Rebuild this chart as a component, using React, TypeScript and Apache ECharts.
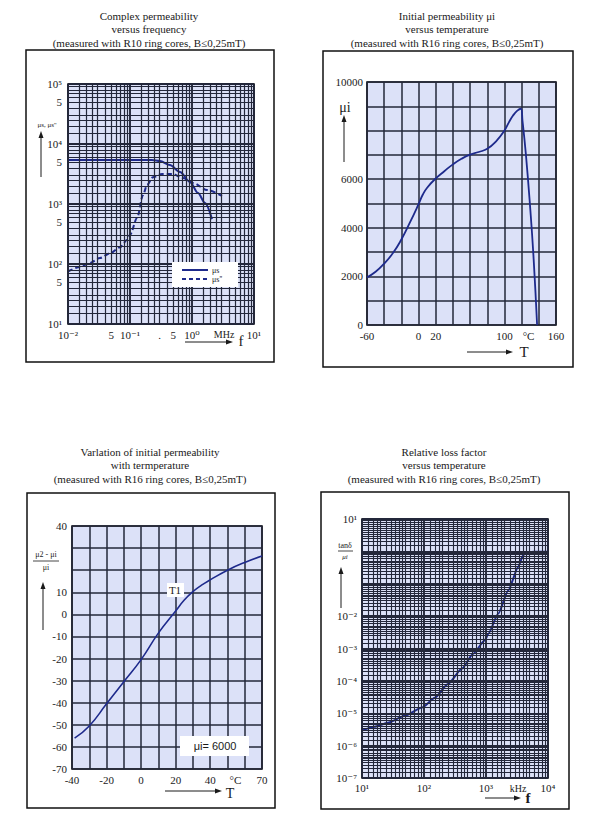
import React, { useEffect, useRef } from 'react';
import * as echarts from 'echarts';

const SERIF = '"Liberation Serif", "Times New Roman", "DejaVu Serif", serif';
const SANS = '"Liberation Sans", Arial, sans-serif';
const INK = '#1a1a1a';
const GRIDC = '#23273a';
const PLOTBG = '#dce1f8';
const CURVE = '#1e2a8c';

// ---------- Panel 1: complex permeability vs frequency (MHz) ----------
const p1FreqMuS = [0.01, 0.05, 0.1, 0.226, 0.305, 0.44, 0.64, 0.93, 1.25, 1.62, 2.1];
const p1MuS = [5400, 5400, 5400, 5400, 5200, 4470, 3420, 2330, 1520, 1040, 560];
const p1FreqMuS2 = [0.01, 0.0156, 0.0226, 0.0328, 0.0476, 0.069, 0.0895, 0.1, 0.13, 0.162, 0.188, 0.235, 0.328, 0.494, 0.716, 1.04, 1.75, 3.05];
const p1MuS2 = [75, 89, 104, 126, 150, 190, 250, 305, 585, 1400, 2070, 2800, 3150, 3150, 2700, 2240, 1710, 1360];
const p1YFiveTicks = [50, 500, 5000, 50000];
const p1XExtraTicks = [0.05, 0.3, 0.5, 3.3];
const p1XExtraLabels = ['5', '.', '5', 'MHz'];
const p1LegendNames = ['μs', "μs''"];

// ---------- Panel 2: initial permeability vs temperature ----------
const p2Temp = [-60, -50, -40, -30, -20, -10, 0, 5, 10, 20, 30, 40, 50, 60, 70, 80, 90, 100, 105, 110, 115, 119, 121, 125, 130, 134, 138];
const p2MuI = [1960, 2190, 2530, 2950, 3520, 4220, 4970, 5370, 5650, 6030, 6330, 6610, 6840, 7010, 7120, 7250, 7550, 8000, 8330, 8620, 8820, 8900, 8400, 7000, 4800, 2700, 0];
const p2XLabelValues = [-60, 0, 20, 100, 160];
const p2YLabelValues = [0, 2000, 4000, 6000, 10000];
const p2UnitAt = 128;

// ---------- Panel 3: variation of initial permeability with temperature ----------
const p3Temp = [-38.5, -30, -20, -10, 0, 10, 20, 25, 30, 35, 40, 50, 60, 70];
const p3Delta = [-56, -50.5, -40.5, -30.5, -20.5, -8.5, 1.5, 6.5, 10.3, 13.2, 15.6, 20, 23.5, 26.4];
const p3XLabelValues = [-40, -20, 0, 20, 40, 70];
const p3YLabelValues = [-70, -60, -50, -40, -30, -20, -10, 0, 10, 40];
const p3UnitAt = 54.6;

// ---------- Panel 4: relative loss factor vs frequency (kHz) ----------
const p4Freq = [10, 16, 26, 49, 93, 150, 243, 410, 620, 960, 1090, 1580, 2290, 3300, 3990, 4790, 6000, 10000];
const p4Loss = [2.9e-6, 3.8e-6, 5.1e-6, 8.3e-6, 1.5e-5, 3e-5, 8e-5, 2.4e-4, 6.9e-4, 1.8e-3, 2.85e-3, 1.2e-2, 6.3e-2, 0.33, 0.77, 0.95, 0.97, 0.97];
const p4YHiddenExp = [0, -1];
const p4UnitAt = 3300;

const logSteps = [1, 1.5, 2, 2.5, 3, 4, 5, 6, 7, 8, 9];
const p4XSteps = [1, 1.25, 1.5, 1.75, 2, 2.5, 3, 3.5, 4, 4.5, 5, 6, 7, 8, 9];
const p4YSteps = [1, 1.5, 2, 2.5, 3, 3.5, 4, 4.5, 5, 6, 7, 8, 9];

const SUP: Record<string, string> = { '-': '⁻', '0': '⁰', '1': '¹', '2': '²', '3': '³', '4': '⁴', '5': '⁵', '6': '⁶', '7': '⁷', '8': '⁸', '9': '⁹' };
const pow10Label = (v: number) => {
  const e = Math.round(Math.log10(v));
  return '10' + String(e).split('').map((c) => SUP[c] || c).join('');
};

const labelFont = { color: INK, fontFamily: SERIF, fontSize: 11 };

function logGrid(axis: 'xAxis' | 'yAxis', expMin: number, expMax: number, steps: number[], minorW = 1.2, majorW = 1.9) {
  const out: any[] = [];
  for (let e = expMin; e < expMax; e++) {
    for (const k of steps) {
      const v = +(k * Math.pow(10, e)).toPrecision(6);
      out.push({ [axis]: v, lineStyle: { color: GRIDC, width: k === 1 ? majorW : minorW, type: 'solid', opacity: 1 } });
    }
  }
  out.push({ [axis]: Math.pow(10, expMax), lineStyle: { color: GRIDC, width: majorW, type: 'solid', opacity: 1 } });
  return out;
}

function labelOnly(axis: 'xAxis' | 'yAxis', v: number, text: string, extra: any = {}) {
  return {
    [axis]: v,
    lineStyle: { color: 'rgba(0,0,0,0)', width: 0 },
    label: { show: true, position: 'start', formatter: text, distance: 5, ...labelFont, ...extra },
  };
}

const markLineBase = { silent: true, symbol: ['none', 'none'], animation: false, precision: 12, label: { show: false } };

function arrowUp(x: number, yBottom: number, yTop: number) {
  return [
    { type: 'line', z: 50, shape: { x1: x, y1: yBottom, x2: x, y2: yTop + 5 }, style: { stroke: INK, lineWidth: 1 } },
    { type: 'polygon', z: 50, shape: { points: [[x, yTop], [x - 2.5, yTop + 7], [x + 2.5, yTop + 7]] }, style: { fill: INK } },
  ];
}
function arrowRight(x1: number, x2: number, y: number) {
  return [
    { type: 'line', z: 50, shape: { x1, y1: y, x2: x2 - 5, y2: y }, style: { stroke: INK, lineWidth: 1 } },
    { type: 'polygon', z: 50, shape: { points: [[x2, y], [x2 - 7, y - 2.5], [x2 - 7, y + 2.5]] }, style: { fill: INK } },
  ];
}
function txt(x: number, y: number, text: string, font: string, align = 'center', extra: any = {}) {
  return {
    type: 'text',
    z: 60,
    x,
    y,
    style: { text, font, fill: INK, align, verticalAlign: 'middle', textAlign: align, textVerticalAlign: 'middle', ...extra },
  };
}

const titles = [
  { x: 149, y: 9, text: 'Complex permeability\nversus frequency\n(measured with R10 ring cores, B≤0,25mT)' },
  { x: 447, y: 9, text: 'Initial permeability μi\nversus temperature\n(measured with R16 ring cores, B≤0,25mT)' },
  { x: 150, y: 445, text: 'Varlation of initial permeability\nwith termperature\n(measured with R16 ring cores, B≤0,25mT)' },
  { x: 444, y: 445, text: 'Relative loss factor\nversus temperature\n(measured with R16 ring cores, B≤0,25mT)' },
];

export default function App() {
  const ref = useRef<HTMLDivElement>(null);
  useEffect(() => {
    if (!ref.current) return;
    const chart = echarts.init(ref.current, undefined, { renderer: 'svg' });

    const gridBase = { show: true, backgroundColor: PLOTBG, borderColor: '#111', borderWidth: 1.6, containLabel: false, outerBoundsMode: 'none' };
    const hiddenAxisParts = { axisLine: { show: false, onZero: false }, axisTick: { show: false } };
    const linSplit = { show: true, lineStyle: { color: GRIDC, width: 1.5, type: 'solid' } };

    const p1Lines = [
      ...logGrid('xAxis', -2, 1, logSteps),
      ...logGrid('yAxis', 1, 5, logSteps).map((it) =>
        p1YFiveTicks.includes(it.yAxis)
          ? { ...it, label: { show: true, position: 'start', formatter: '5', distance: 6, ...labelFont } }
          : it
      ),
      ...p1XExtraTicks.map((v, i) => labelOnly('xAxis', v, p1XExtraLabels[i], p1XExtraLabels[i] === 'MHz' ? { fontSize: 10 } : {})),
    ];
    const p4Lines = [
      ...logGrid('xAxis', 1, 4, p4XSteps, 1.1, 1.9),
      ...logGrid('yAxis', -7, 1, p4YSteps, 1.1, 2.2),
      labelOnly('xAxis', p4UnitAt, 'kHz', { fontSize: 10 }),
    ];

    const option: any = {
      animation: false,
      textStyle: { fontFamily: SERIF },
      grid: [
        { ...gridBase, left: 68, top: 84, width: 186, height: 240 },
        { ...gridBase, left: 367, top: 82, width: 189, height: 243 },
        { ...gridBase, left: 72, top: 526, width: 190, height: 243 },
        { ...gridBase, left: 362, top: 519, width: 186, height: 259 },
      ],
      xAxis: [
        {
          type: 'log', logBase: 10, gridIndex: 0, min: 0.01, max: 10, ...hiddenAxisParts,
          splitLine: { show: false },
          axisLabel: { ...labelFont, margin: 5, formatter: (v: number) => pow10Label(v) },
        },
        {
          type: 'value', gridIndex: 1, min: -60, max: 160, interval: 20, ...hiddenAxisParts,
          splitLine: linSplit,
          axisLabel: { ...labelFont, margin: 5, formatter: (v: number) => (p2XLabelValues.includes(v) ? String(v) : '') },
        },
        {
          type: 'value', gridIndex: 2, min: -40, max: 70, interval: 10, ...hiddenAxisParts,
          splitLine: linSplit,
          axisLabel: { ...labelFont, margin: 5, formatter: (v: number) => (p3XLabelValues.includes(v) ? String(v) : '') },
        },
        {
          type: 'log', logBase: 10, gridIndex: 3, min: 10, max: 10000, ...hiddenAxisParts,
          splitLine: { show: false },
          axisLabel: { ...labelFont, margin: 4, formatter: (v: number) => pow10Label(v) },
        },
      ],
      yAxis: [
        {
          type: 'log', logBase: 10, gridIndex: 0, min: 10, max: 100000, ...hiddenAxisParts,
          splitLine: { show: false },
          axisLabel: { ...labelFont, margin: 6, formatter: (v: number) => pow10Label(v) },
        },
        {
          type: 'value', gridIndex: 1, min: 0, max: 10000, interval: 1000, ...hiddenAxisParts,
          splitLine: linSplit,
          axisLabel: { ...labelFont, margin: 4, formatter: (v: number) => (p2YLabelValues.includes(v) ? String(v) : '') },
        },
        {
          type: 'value', gridIndex: 2, min: -70, max: 40, interval: 10, ...hiddenAxisParts,
          splitLine: linSplit,
          axisLabel: { ...labelFont, margin: 5, formatter: (v: number) => (p3YLabelValues.includes(v) ? String(v) : '') },
        },
        {
          type: 'log', logBase: 10, gridIndex: 3, min: 1e-7, max: 10, ...hiddenAxisParts,
          splitLine: { show: false },
          axisLabel: {
            ...labelFont, margin: 5,
            formatter: (v: number) => (p4YHiddenExp.includes(Math.round(Math.log10(v))) ? '' : pow10Label(v)),
          },
        },
      ],
      series: [
        {
          name: 'p1grid', type: 'line', xAxisIndex: 0, yAxisIndex: 0, data: [], silent: true, z: 1,
          markLine: { ...markLineBase, data: p1Lines },
        },
        {
          name: p1LegendNames[0], type: 'line', xAxisIndex: 0, yAxisIndex: 0, z: 3, symbol: 'none', smooth: 0.3, smoothMonotone: 'x',
          data: p1FreqMuS.map((f, i) => [f, p1MuS[i]]),
          lineStyle: { color: CURVE, width: 2 }, itemStyle: { color: CURVE },
        },
        {
          name: p1LegendNames[1], type: 'line', xAxisIndex: 0, yAxisIndex: 0, z: 3, symbol: 'none', smooth: 0.3, smoothMonotone: 'x',
          data: p1FreqMuS2.map((f, i) => [f, p1MuS2[i]]),
          lineStyle: { color: CURVE, width: 2, type: [5, 3] }, itemStyle: { color: CURVE },
        },
        {
          name: 'p2', type: 'line', xAxisIndex: 1, yAxisIndex: 1, z: 3, symbol: 'none', smooth: 0.5,
          data: p2Temp.map((t, i) => [t, p2MuI[i]]),
          lineStyle: { color: CURVE, width: 1.8 },
          markLine: { ...markLineBase, data: [labelOnly('xAxis', p2UnitAt, '°C')] },
        },
        {
          name: 'p3', type: 'line', xAxisIndex: 2, yAxisIndex: 2, z: 3, symbol: 'none', smooth: 0.5,
          data: p3Temp.map((t, i) => [t, p3Delta[i]]),
          lineStyle: { color: CURVE, width: 1.6 },
          markLine: { ...markLineBase, data: [labelOnly('xAxis', p3UnitAt, '°C')] },
        },
        {
          name: 'p4grid', type: 'line', xAxisIndex: 3, yAxisIndex: 3, data: [], silent: true, z: 1,
          markLine: { ...markLineBase, data: p4Lines },
        },
        {
          name: 'p4', type: 'line', xAxisIndex: 3, yAxisIndex: 3, z: 3, symbol: 'none', smooth: 0.2, smoothMonotone: 'x',
          data: p4Freq.map((f, i) => [f, p4Loss[i]]),
          lineStyle: { color: CURVE, width: 2 },
        },
      ],
      graphic: [
        // frames
        { type: 'rect', shape: { x: 26, y: 50, width: 248, height: 312 }, style: { fill: 'none', stroke: '#111', lineWidth: 1.5 } },
        { type: 'rect', shape: { x: 323, y: 51, width: 250, height: 316 }, style: { fill: 'none', stroke: '#111', lineWidth: 1.5 } },
        { type: 'rect', shape: { x: 27, y: 493, width: 248, height: 315 }, style: { fill: 'none', stroke: '#111', lineWidth: 1.5 } },
        { type: 'rect', shape: { x: 321, y: 492, width: 248, height: 317 }, style: { fill: 'none', stroke: '#111', lineWidth: 1.5 } },
        // titles
        ...titles.map((t) => ({
          type: 'text', x: t.x, y: t.y,
          style: { text: t.text, font: `11px ${SERIF}`, fill: INK, align: 'center', verticalAlign: 'top', textAlign: 'center', textVerticalAlign: 'top', lineHeight: 13.6 },
        })),
        // panel 1 legend
        { type: 'rect', z: 55, shape: { x: 172, y: 262, width: 66, height: 25 }, style: { fill: '#fff', stroke: 'none' } },
        { type: 'line', z: 60, shape: { x1: 182, y1: 270, x2: 208, y2: 270 }, style: { stroke: CURVE, lineWidth: 2 } },
        { type: 'line', z: 60, shape: { x1: 182, y1: 279, x2: 208, y2: 279 }, style: { stroke: CURVE, lineWidth: 2, lineDash: [4, 3] } },
        txt(212, 270, p1LegendNames[0], `8px ${SERIF}`, 'left'),
        txt(212, 279, p1LegendNames[1], `8px ${SERIF}`, 'left'),
        // panel 1 axis names
        txt(47, 125, "μs, μs''", `7px ${SERIF}`),
        ...arrowUp(41, 177, 131),
        ...arrowRight(185, 233, 342),
        txt(241, 341, 'f', `15px ${SERIF}`),
        // panel 2 axis names
        txt(345, 107, 'μi', `14px ${SERIF}`),
        ...arrowUp(344, 162, 115),
        ...arrowRight(467, 513, 352),
        txt(524, 352, 'T', `15px ${SERIF}`),
        // panel 3 axis names
        txt(46, 554, 'μ2 - μi', `8px ${SERIF}`),
        { type: 'line', z: 50, shape: { x1: 33, y1: 561, x2: 59, y2: 561 }, style: { stroke: INK, lineWidth: 0.8 } },
        txt(46, 567, 'μi', `8px ${SERIF}`),
        ...arrowUp(43, 630, 582),
        ...arrowRight(165, 222, 791),
        txt(230, 793, 'T', `14px ${SERIF}`),
        // panel 3 annotations
        { type: 'rect', z: 55, shape: { x: 167, y: 583, width: 17, height: 14 }, style: { fill: '#fff', stroke: 'none' } },
        txt(175, 590, 'T1', `11px ${SERIF}`),
        { type: 'rect', z: 55, shape: { x: 180, y: 736, width: 69, height: 20 }, style: { fill: '#fff', stroke: 'none' } },
        txt(215, 746, 'μi= 6000', `11px ${SANS}`),
        // panel 4 axis names
        txt(345, 545, 'tanδ', `8px ${SERIF}`),
        { type: 'line', z: 50, shape: { x1: 338, y1: 551, x2: 353, y2: 551 }, style: { stroke: INK, lineWidth: 0.8 } },
        txt(345, 557, 'μi', `italic 7px ${SERIF}`),
        ...arrowUp(341, 608, 567),
        ...arrowRight(485, 521, 798),
        txt(528, 798, 'f', `bold 15px ${SERIF}`),
      ],
    };

    chart.setOption(option);
    return () => chart.dispose();
  }, []);

  return (
    <div
      ref={ref}
      style={{ position: 'absolute', left: 0, top: 0, width: 600, height: 820, background: '#fff' }}
    />
  );
}
